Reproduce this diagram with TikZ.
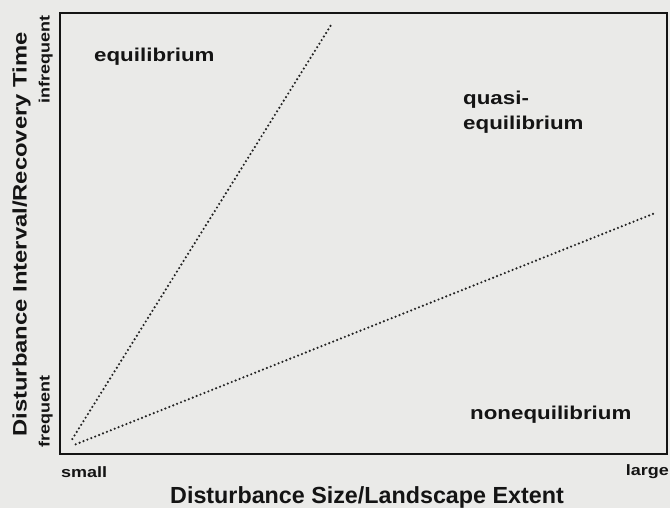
\documentclass[tikz,border=0pt]{standalone}
\usepackage{fontspec}
\setmainfont{Liberation Sans}
\newfontfamily\widefont{Liberation Sans}[FakeStretch=1.2]
\newfontfamily\ylabfont{Liberation Sans}[FakeStretch=1.22]
\definecolor{bgcol}{RGB}{234,234,232}
\definecolor{inkcol}{RGB}{20,20,20}
\definecolor{dotcol}{RGB}{35,35,35}
\begin{document}
\begin{tikzpicture}[x=1bp,y=-1bp,
  region/.style={anchor=base west,inner sep=0pt,text=inkcol,
    font=\widefont\bfseries\fontsize{18.6bp}{25bp}\selectfont},
  ticklab/.style={inner sep=0pt,text=inkcol,
    font=\widefont\bfseries\fontsize{15bp}{18bp}\selectfont},
  axislab/.style={inner sep=0pt,text=inkcol},
  frame/.style={draw=inkcol,line width=2.2bp},
  boundary/.style={draw=dotcol,line width=2.4bp,line cap=round,dash pattern=on 0bp off 4.2bp}]
\fill[bgcol] (0,0) rectangle (670,508);
\useasboundingbox (0,0) rectangle (670,508);
\draw[frame] (60,13) rectangle (667,454);
% boundaries
\coordinate (s1) at (72.3,439);
\coordinate (e1) at (331.7,24);
\coordinate (s2) at (75.7,444.3);
\coordinate (e2) at (656,212.7);
\draw[boundary] (s1) -- (e1);
\draw[boundary] (s2) -- (e2);
% regions
\node[region] (eq) at (94,61.7) {equilibrium};
\node[region,align=left] (qe) at (463,130) {quasi-\\equilibrium};
\node[region] (ne) at (470,419) {nonequilibrium};
% tick labels
\node[ticklab,anchor=base west] (sm) at (61,477) {small};
\node[ticklab,anchor=base east] (lg) at (669,475) {large};
\node[ticklab,anchor=base west,rotate=90] (inf) at (49.5,104) {infrequent};
\node[ticklab,anchor=base west,rotate=90] (fr) at (49.5,448) {frequent};
% axis labels
\node[axislab,anchor=base west,font=\bfseries\fontsize{23.3bp}{28bp}\selectfont] (xl) at (170,503) {Disturbance Size/Landscape Extent};
\node[axislab,anchor=base west,rotate=90,font=\ylabfont\bfseries\fontsize{19.5bp}{24bp}\selectfont] (yl) at (26.5,436.7) {Disturbance Interval/Recovery Time};
\end{tikzpicture}
\end{document}
